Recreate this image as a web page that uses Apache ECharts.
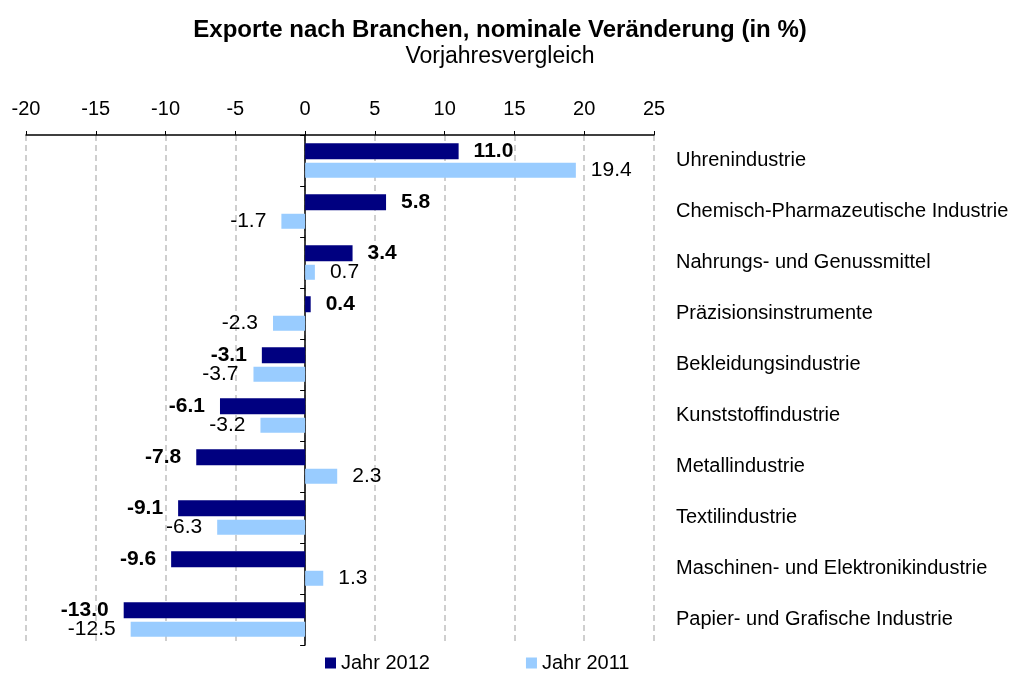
<!DOCTYPE html>
<html>
<head>
<meta charset="utf-8">
<script src="https://cdn.jsdelivr.net/npm/echarts@6/dist/echarts.min.js"></script>
<style>
  html, body { margin: 0; padding: 0; background: #fff; }
  #chart { width: 1014px; height: 673px; }
</style>
</head>
<body>
<div id="chart"></div>
<script>
const categories = [
  'Uhrenindustrie',
  'Chemisch-Pharmazeutische Industrie',
  'Nahrungs- und Genussmittel',
  'Präzisionsinstrumente',
  'Bekleidungsindustrie',
  'Kunststoffindustrie',
  'Metallindustrie',
  'Textilindustrie',
  'Maschinen- und Elektronikindustrie',
  'Papier- und Grafische Industrie'
];
const jahr2012 = [11.0, 5.8, 3.4, 0.4, -3.1, -6.1, -7.8, -9.1, -9.6, -13.0];
const jahr2011 = [19.4, -1.7, 0.7, -2.3, -3.7, -3.2, 2.3, -6.3, 1.3, -12.5];

const font = '"Liberation Sans", Arial, sans-serif';

function barLabel(bold) {
  return {
    show: true,
    distance: 15,
    fontFamily: font,
    fontSize: 21,
    fontWeight: bold ? 'bold' : 'normal',
    color: '#000',
    formatter: (p) => p.value.toFixed(1)
  };
}

// labels go right of positive bars, left of negative ones
function withLabels(values, bold) {
  return values.map((v) => ({
    value: v,
    label: Object.assign(barLabel(bold), { position: v < 0 ? 'left' : 'right' })
  }));
}

const chart = echarts.init(document.getElementById('chart'));
chart.setOption({
  animation: false,
  title: {
    text: 'Exporte nach Branchen, nominale Veränderung (in %)',
    subtext: 'Vorjahresvergleich',
    left: 495,
    textAlign: 'center',
    top: 13,
    itemGap: 3,
    textStyle: { fontFamily: font, fontSize: 24, fontWeight: 'bold', color: '#000' },
    subtextStyle: { fontFamily: font, fontSize: 23, color: '#000' }
  },
  legend: {
    data: ['Jahr 2012', 'Jahr 2011'],
    left: 325,
    top: 653,
    padding: 0,
    icon: 'rect',
    itemWidth: 11,
    itemHeight: 11,
    itemGap: 96,
    textStyle: { fontFamily: font, fontSize: 20, color: '#000' }
  },
  grid: { left: 26, right: 360, top: 135, bottom: 28, containLabel: false },
  xAxis: {
    type: 'value',
    position: 'top',
    min: -20,
    max: 25,
    interval: 5,
    axisLine: { show: true, lineStyle: { color: '#000', width: 1.5 } },
    axisTick: { show: true, length: 4, lineStyle: { color: '#000' } },
    axisLabel: { fontFamily: font, fontSize: 20, color: '#000', margin: 16 },
    splitLine: { show: true, lineStyle: { color: '#c0c0c0', type: [6, 4], width: 1.5 } }
  },
  yAxis: [
    {
      type: 'category',
      data: categories,
      inverse: true,
      position: 'right',
      axisLine: { show: false, onZero: false },
      axisTick: { show: false },
      axisLabel: { fontFamily: font, fontSize: 20, color: '#000', margin: 22, align: 'left' },
      splitLine: { show: false }
    },
    {
      type: 'category',
      data: categories,
      inverse: true,
      position: 'left',
      axisLine: { show: true, onZero: true, lineStyle: { color: '#000', width: 1.5 } },
      axisTick: { show: true, length: 5, lineStyle: { color: '#000' } },
      axisLabel: { show: false },
      splitLine: { show: false }
    }
  ],
  series: [
    {
      name: 'Jahr 2012',
      type: 'bar',
      yAxisIndex: 0,
      data: withLabels(jahr2012, true),
      barWidth: 16,
      barGap: '22%',
      itemStyle: { color: '#000080' }
    },
    {
      name: 'Jahr 2011',
      type: 'bar',
      yAxisIndex: 0,
      data: withLabels(jahr2011, false),
      barWidth: 15,
      itemStyle: { color: '#99ccff' }
    }
  ]
});
</script>
</body>
</html>
